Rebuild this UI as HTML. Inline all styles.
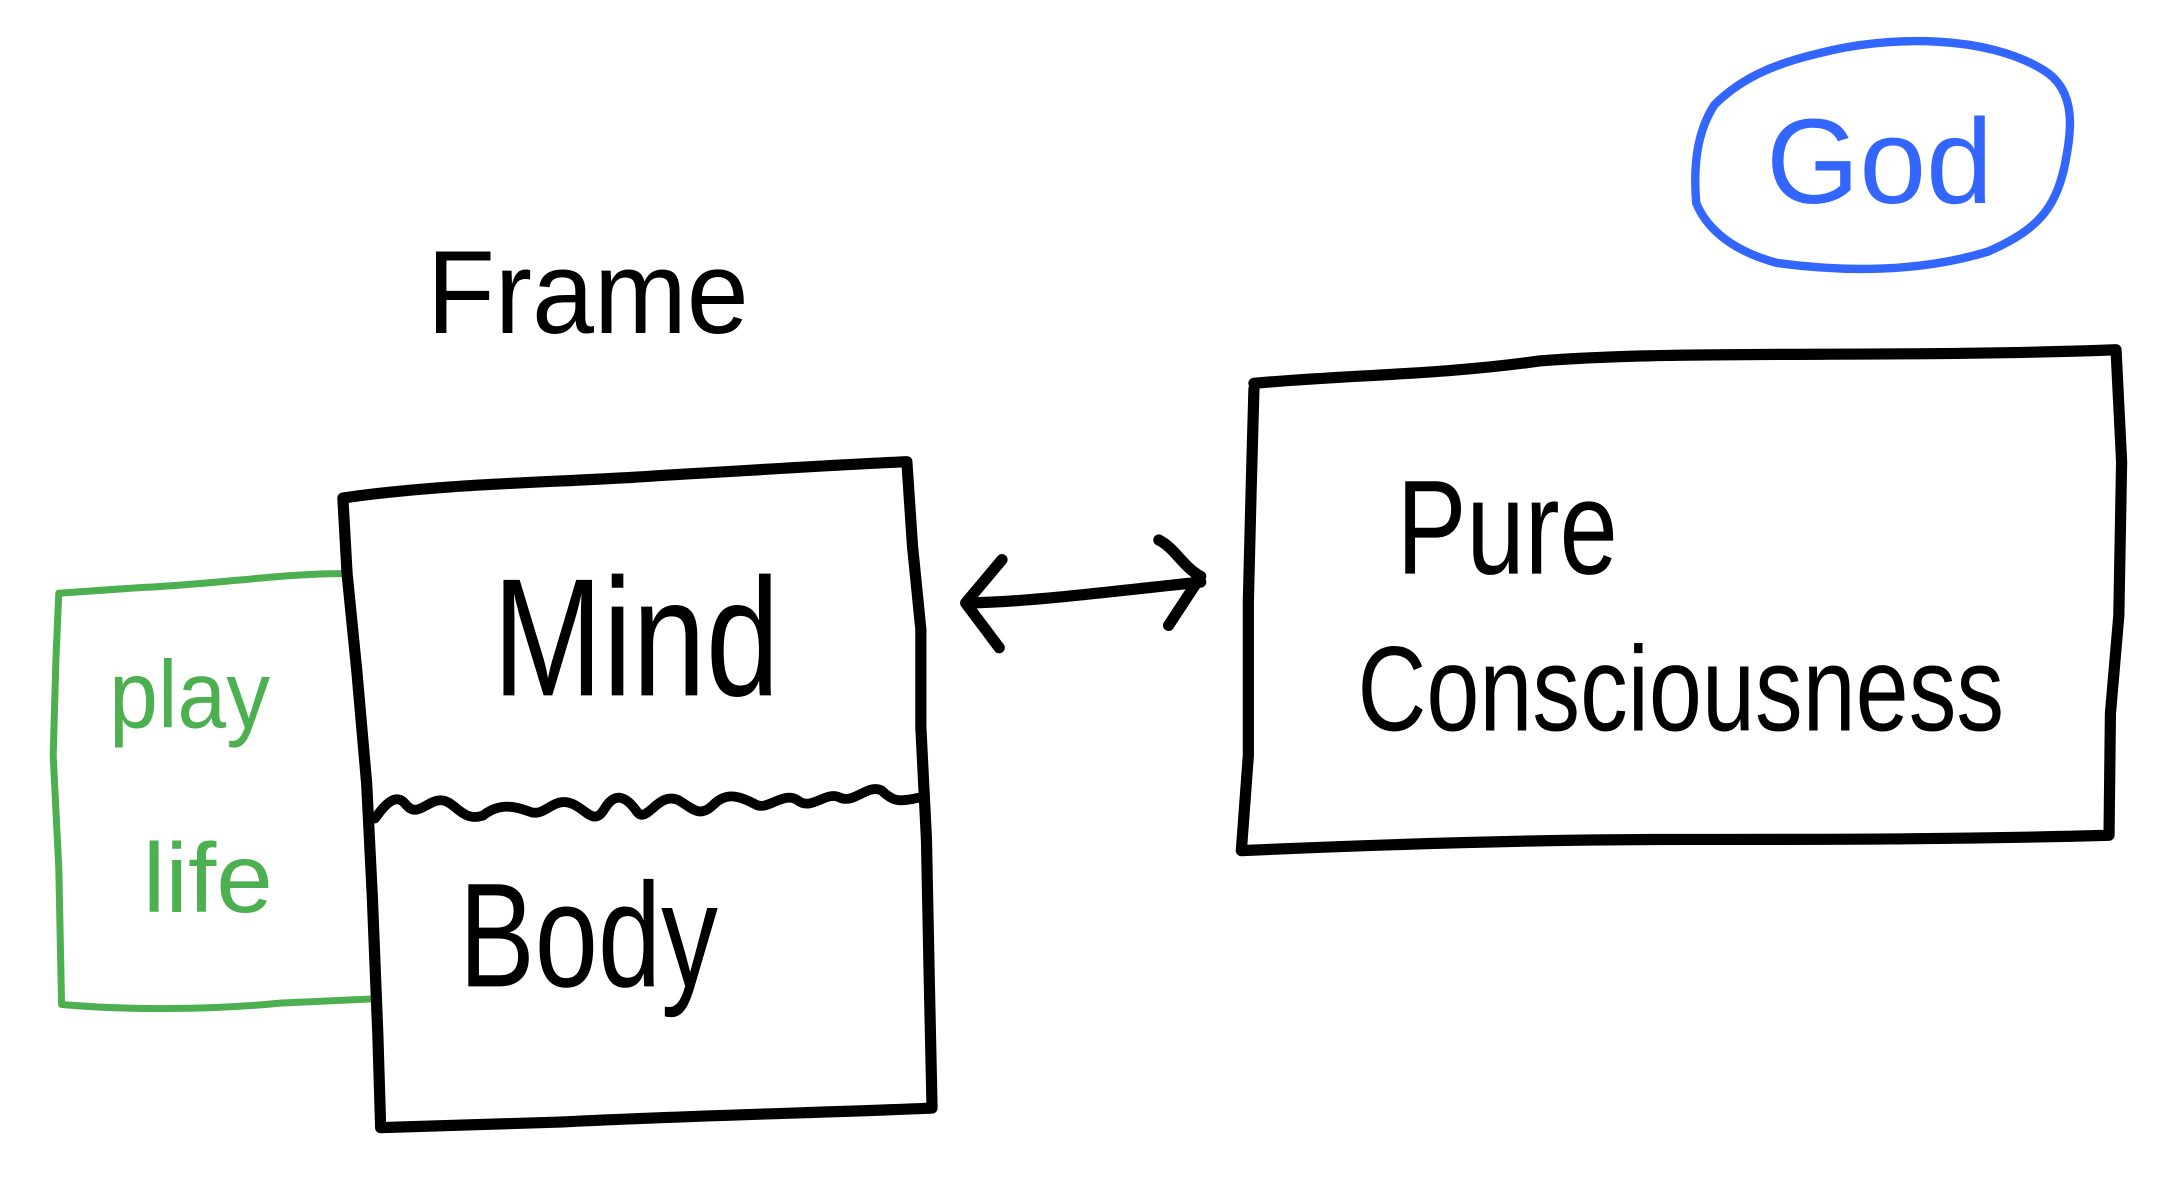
<!DOCTYPE html>
<html><head><meta charset="utf-8"><style>
html,body{margin:0;padding:0;background:#fff;}
svg{display:block;}
text{font-family:"Liberation Sans",sans-serif;}
</style></head><body>
<svg width="2172" height="1199" viewBox="0 0 1552 857" preserveAspectRatio="none" xmlns="http://www.w3.org/2000/svg">
<g fill="none" stroke-linecap="round" stroke-linejoin="round">
<path d="M245,410 C200,410 150,418 100,420 L42,424 L40,470 L38,540 L42,620 L44,718 C90,722 150,722 200,717 L266,714" stroke="#4caf50" stroke-width="5"/>
<path d="M245,356 C320,345 400,345 470,340 C540,336 600,332 648,330 L652,390 L658,450 L658,520 L662,600 L664,700 L666,792 C600,795 500,797 400,802 L272,806 L270,740 L266,640 L262,560 L255,480 L248,410 Z" stroke="#000" stroke-width="8"/>
<path d="M268,585 C275,575 283,566 290,575 C298,585 305,572 315,572 C325,572 330,588 345,583 C355,575 365,575 378,580 C390,585 395,568 410,575 C420,580 425,590 432,578 C440,565 448,570 455,580 C462,590 470,565 485,572 C495,578 500,585 510,575 C520,565 530,570 540,575 C548,580 560,565 570,572 C580,580 590,565 600,570 C610,575 620,560 630,565 C640,575 645,572 658,570" stroke="#000" stroke-width="7"/>
<path d="M692,431 C740,430 800,422 858,416" stroke="#000" stroke-width="8"/>
<path d="M716,400 L690,431 L714,463" stroke="#000" stroke-width="8"/>
<path d="M828,386 C840,392 845,405 858,412 L835,447" stroke="#000" stroke-width="8"/>
<path d="M896,274 C960,268 1030,268 1100,258 C1200,250 1350,256 1512,250 L1516,330 L1514,440 L1508,510 L1507,597 C1400,600 1300,600 1200,600 C1100,600 1000,603 887,608 L892,540 L892,430 L894,350 L896,278" stroke="#000" stroke-width="8"/>
<path d="M1300,38 C1350,25 1420,25 1460,50 C1485,65 1480,95 1475,120 C1468,150 1455,165 1420,180 C1380,192 1330,196 1270,188 C1240,180 1220,165 1212,145 C1210,120 1212,95 1225,75 C1245,55 1270,45 1300,38" stroke="#3366ff" stroke-width="6"/>
</g>
<text x="305" y="238" font-size="84" fill="#000" textLength="230" lengthAdjust="spacingAndGlyphs">Frame</text>
<text x="352" y="497" font-size="120" fill="#000" textLength="205" lengthAdjust="spacingAndGlyphs">Mind</text>
<text x="328" y="705" font-size="106" fill="#000" textLength="185" lengthAdjust="spacingAndGlyphs">Body</text>
<text x="998" y="410" font-size="96" fill="#000" textLength="158" lengthAdjust="spacingAndGlyphs">Pure</text>
<text x="970" y="522" font-size="86" fill="#000" textLength="462" lengthAdjust="spacingAndGlyphs">Consciousness</text>
<text x="1262" y="145" font-size="86" fill="#3366ff" textLength="162" lengthAdjust="spacingAndGlyphs">God</text>
<text x="78" y="520" font-size="68" fill="#4caf50" textLength="115" lengthAdjust="spacingAndGlyphs">play</text>
<text x="102" y="652" font-size="70" fill="#4caf50" textLength="93" lengthAdjust="spacingAndGlyphs">life</text>
</svg>
</body></html>
